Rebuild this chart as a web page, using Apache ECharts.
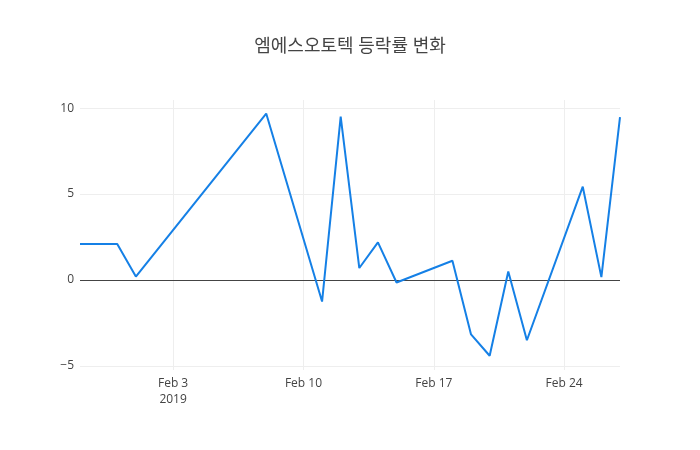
<!DOCTYPE html>
<html>
<head>
<meta charset="utf-8">
<script src="https://cdn.jsdelivr.net/npm/echarts@6/dist/echarts.min.js"></script>
<style>
  html, body { margin: 0; padding: 0; background: #fff; }
  #chart { width: 700px; height: 450px; }
</style>
</head>
<body>
<div id="chart"></div>
<script>
// 거래일 (2019년)
var dates = ['2019-01-29', '2019-01-31', '2019-02-01', '2019-02-08', '2019-02-11', '2019-02-12',
  '2019-02-13', '2019-02-14', '2019-02-15', '2019-02-18', '2019-02-19', '2019-02-20',
  '2019-02-21', '2019-02-22', '2019-02-25', '2019-02-26', '2019-02-27'];
// 등락률 (%)
var rates = [2.1, 2.1, 0.2, 9.68, -1.25, 9.5, 0.7, 2.19, -0.14, 1.12, -3.16, -4.4, 0.5, -3.5, 5.43, 0.17, 9.47];
var tickDates = ['2019-02-03', '2019-02-10', '2019-02-17', '2019-02-24'];
var title = '엠에스오토텍 등락률 변화';

function toTime(s) {
  var p = s.split('-');
  return Date.UTC(+p[0], +p[1] - 1, +p[2]);
}

var data = [];
for (var i = 0; i < dates.length; i++) {
  data.push([toTime(dates[i]), rates[i]]);
}
var ticks = tickDates.map(toTime);
var months = ['Jan', 'Feb', 'Mar', 'Apr', 'May', 'Jun', 'Jul', 'Aug', 'Sep', 'Oct', 'Nov', 'Dec'];

var chart = echarts.init(document.getElementById('chart'), null, { renderer: 'canvas' });
var option = {
  animation: false,
  backgroundColor: '#fff',
  title: {
    text: title,
    left: 'center',
    top: 33,
    textStyle: {
      fontFamily: '"Open Sans", "Noto Sans CJK KR", sans-serif',
      fontSize: 18,
      fontWeight: 'normal',
      color: '#444'
    }
  },
  grid: { left: 80, right: 80, top: 100, bottom: 80 },
  xAxis: {
    type: 'value',
    min: toTime('2019-01-29'),
    max: toTime('2019-02-27'),
    axisLine: { show: false, onZero: false },
    axisTick: { show: false, customValues: ticks },
    axisLabel: {
      customValues: ticks,
      margin: 6,
      color: '#444',
      fontSize: 12,
      lineHeight: 16,
      fontFamily: '"Open Sans", sans-serif',
      formatter: function (v) {
        var d = new Date(v);
        var s = months[d.getUTCMonth()] + ' ' + d.getUTCDate();
        if (v === ticks[0]) s += '\n' + d.getUTCFullYear();
        return s;
      }
    },
    splitLine: { show: true, lineStyle: { color: '#eee', width: 1 } }
  },
  yAxis: {
    type: 'value',
    min: -5.23,
    max: 10.47,
    splitNumber: 3,
    axisLine: { show: false },
    axisTick: { show: false },
    axisLabel: {
      showMinLabel: false,
      showMaxLabel: false,
      margin: 6,
      color: '#444',
      fontSize: 12,
      fontFamily: '"Open Sans", sans-serif',
      formatter: function (v) { return v < 0 ? '\u2212' + Math.abs(v) : String(v); }
    },
    splitLine: {
      show: true,
      showMinLine: false,
      showMaxLine: false,
      lineStyle: { color: '#eee', width: 1 }
    }
  },
  series: [{
    type: 'line',
    data: data,
    showSymbol: false,
    symbol: 'none',
    lineStyle: { color: '#1580e6', width: 2 },
    itemStyle: { color: '#1580e6' },
    markLine: {
      silent: true,
      symbol: 'none',
      label: { show: false },
      lineStyle: { color: '#444', width: 1, type: 'solid' },
      data: [{ yAxis: 0 }],
      z: 1
    }
  }]
};
chart.setOption(option);
</script>
</body>
</html>
